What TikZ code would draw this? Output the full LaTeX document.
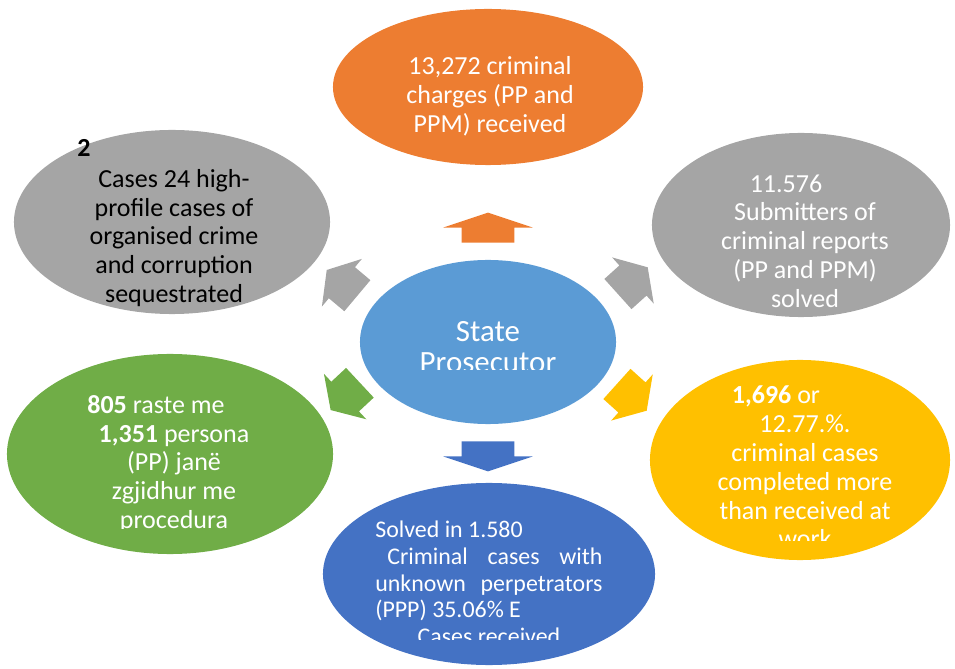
\documentclass[tikz,border=0pt]{standalone}
\usepackage{fontspec}
\setmainfont{Carlito}
\usetikzlibrary{shapes.geometric,shapes.arrows}

\definecolor{accorange}{HTML}{ED7D31}
\definecolor{accgray}{HTML}{A5A5A5}
\definecolor{acclight}{HTML}{5B9BD5}
\definecolor{accyellow}{HTML}{FFC000}
\definecolor{accgreen}{HTML}{70AD47}
\definecolor{accblue}{HTML}{4472C4}

\tikzset{
  bubble/.style={ellipse, inner sep=0pt, draw=none},
  blockarrow/.style={single arrow, inner xsep=0pt, draw=none, single arrow head indent=0pt},
  flatarrow/.style={blockarrow, minimum height=0.75cm, inner ysep=0.65cm,
    single arrow head extend=0.46cm, single arrow tip angle=143},
  slantarrow/.style={blockarrow, minimum height=1cm, inner ysep=0.5cm,
    single arrow head extend=0.27cm, single arrow tip angle=115},
  bubbletext/.style={align=center, inner sep=0pt, text=white,
    font=\fontsize{18.5}{20.5}\selectfont},
}

\begin{document}
\begin{tikzpicture}[x=0.025cm, y=-0.025cm]
\useasboundingbox (0,0) rectangle (955,669);

\node[bubble, fill=accorange, minimum width=7.75cm, minimum height=3.9cm] (charges) at (488,87) {};
\node[bubble, fill=accgray, minimum width=7.9cm, minimum height=4.6cm] (highprofile) at (172,222) {};
\node[bubble, fill=accgray, minimum width=7.45cm, minimum height=4.6cm] (submitters) at (801,225) {};
\node[bubble, fill=acclight, minimum width=6.4cm, minimum height=4.1cm] (chief) at (488,342) {};
\node[bubble, fill=accgreen, minimum width=8.15cm, minimum height=5cm] (procedures) at (170,454) {};
\node[bubble, fill=accyellow, minimum width=7.5cm, minimum height=5cm] (completed) at (800,460) {};
\node[bubble, fill=accblue, minimum width=8.3cm, minimum height=4.55cm] (unknown) at (489,574) {};

\node[flatarrow, fill=accorange, rotate=90] (toCharges) at (488,232) {};
\node[flatarrow, fill=accblue, rotate=-90] (toUnknown) at (488,452) {};
\node[slantarrow, fill=accgray, rotate=140] (toHighprofile) at (347,287) {};
\node[slantarrow, fill=accgray, rotate=42] (toSubmitters) at (628,285) {};
\node[slantarrow, fill=accgreen, rotate=223] (toProcedures) at (350,392) {};
\node[slantarrow, fill=accyellow, rotate=-42] (toCompleted) at (627,393) {};

\node[bubbletext] (chargesText) at (490,96) {13,272 criminal\\charges (PP and\\PPM) received};
\node[bubbletext, text=black, font=\fontsize{18.5}{20.5}\bfseries, anchor=west] (highprofileNum) at (77,148) {2};
\node[bubbletext, text=black] (highprofileText) at (174,238) {Cases 24 high-\\profile cases of\\organised crime\\and corruption\\sequestrated};
\node[bubbletext] (submittersText) at (805,241) {11.576\hspace*{0.95cm}\\Submitters of\\criminal reports\\(PP and PPM)\\solved};

\begin{scope}
\clip (0,0) rectangle (955,370);
\node[bubbletext, font=\fontsize{22}{22}\selectfont] (chiefText) at (488,347) {State\\Prosecutor};
\end{scope}

\begin{scope}
\clip (0,0) rectangle (955,528);
\node[bubbletext] (proceduresText) at (174,464) {\textbf{805} raste me\hspace*{0.9cm}\\\textbf{1,351} persona\\(PP) janë\\zgjidhur me\\procedura};
\end{scope}

\begin{scope}
\clip (0,0) rectangle (955,540);
\node[bubbletext] (completedText) at (805,467) {\textbf{1,696} or\hspace*{1.45cm}\\12.77.\%.\hspace*{0.7cm}\\criminal cases\\completed more\\than received at\\work};
\end{scope}

\begin{scope}
\clip (0,0) rectangle (955,639);
\node[bubbletext, align=left, anchor=west, font=\fontsize{17}{19}\selectfont] (unknownText) at (375,583)
  {Solved in 1.580\\
   \makebox[5.68cm][l]{\hspace{0.3cm}Criminal\hfill cases\hfill with}\\
   \makebox[5.68cm][l]{unknown\hfill perpetrators}\\
   (PPP) 35.06\% E\\
   \makebox[5.68cm]{Cases received}};
\end{scope}
\end{tikzpicture}
\end{document}
